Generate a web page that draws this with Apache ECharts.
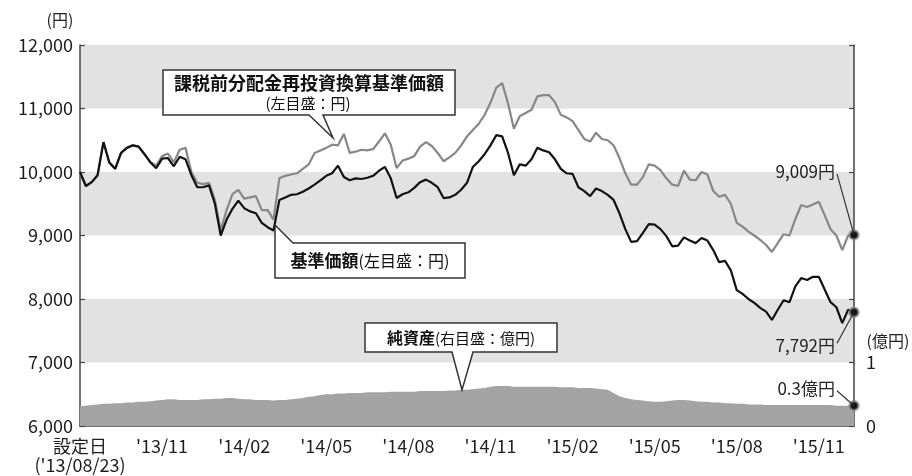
<!DOCTYPE html>
<html><head><meta charset="utf-8">
<script src="https://cdn.jsdelivr.net/npm/echarts@6/dist/echarts.min.js"></script>
<style>html,body{margin:0;padding:0;background:#fff}#c{width:912px;height:476px}</style>
</head><body><div id="c"></div>
<script>
// ---- data ----
const xTickLabels = ["設定日\n('13/08/23)", "'13/11", "'14/02", "'14/05", "'14/08", "'14/11", "'15/02", "'15/05", "'15/08", "'15/11"];
const pointsPerTick = 14;
// 基準価額 (円)
const navBase = [
 10000,9780,9840,9950,10470,10150,10050,10300,10380,10420,
 10400,10280,10150,10060,10210,10220,10090,10240,10200,9950,
 9760,9760,9790,9500,9000,9250,9420,9550,9430,9380,
 9350,9200,9130,9080,9560,9600,9640,9650,9690,9740,
 9800,9870,9940,9980,10100,9920,9870,9900,9890,9910,
 9940,10020,10080,9900,9590,9650,9680,9750,9840,9880,
 9830,9760,9590,9600,9640,9720,9830,10080,10170,10280,
 10420,10580,10560,10300,9950,10120,10100,10200,10380,10340,
 10310,10200,10050,9980,9970,9760,9700,9620,9740,9700,
 9640,9560,9350,9100,8900,8910,9040,9180,9170,9100,
 8990,8830,8840,8970,8920,8880,8960,8920,8770,8580,
 8600,8450,8140,8080,8000,7940,7860,7800,7670,7830,
 7980,7950,8200,8330,8300,8350,8350,8150,7950,7870,
 7620,7830,7792
];
// 課税前分配金再投資換算基準価額 (円)
const navReinvested = [
 10000,9780,9840,9950,10470,10150,10050,10300,10380,10420,
 10400,10280,10160,10100,10250,10290,10150,10350,10380,10000,
 9830,9810,9830,9560,9080,9400,9650,9720,9580,9600,
 9620,9400,9400,9250,9900,9940,9960,9980,10050,10120,
 10300,10340,10380,10430,10420,10600,10300,10320,10350,10340,
 10360,10480,10610,10430,10060,10180,10210,10250,10400,10470,
 10410,10300,10170,10230,10300,10420,10560,10660,10760,10900,
 11090,11330,11400,11080,10680,10880,10930,10980,11190,11210,
 11210,11100,10900,10860,10800,10660,10520,10480,10620,10520,
 10500,10420,10220,9980,9800,9800,9920,10120,10100,10030,
 9900,9800,9780,10020,9880,9870,10000,9960,9700,9610,
 9640,9500,9200,9140,9060,9000,8930,8850,8740,8880,
 9020,9000,9260,9480,9450,9490,9530,9320,9100,9000,
 8770,9000,9009
];
// 純資産 (億円)
const netAssets = [
 0.31,0.32,0.33,0.34,0.35,0.35,0.36,0.36,0.37,0.37,
 0.38,0.38,0.39,0.40,0.41,0.42,0.42,0.41,0.41,0.41,
 0.41,0.42,0.42,0.43,0.43,0.44,0.44,0.43,0.42,0.42,
 0.41,0.41,0.41,0.40,0.41,0.41,0.42,0.43,0.44,0.46,
 0.47,0.49,0.50,0.50,0.51,0.51,0.52,0.52,0.52,0.53,
 0.53,0.53,0.53,0.54,0.54,0.54,0.54,0.54,0.55,0.55,
 0.55,0.55,0.55,0.56,0.56,0.57,0.57,0.58,0.59,0.60,
 0.62,0.63,0.63,0.63,0.62,0.62,0.62,0.62,0.62,0.62,
 0.62,0.62,0.61,0.61,0.61,0.60,0.60,0.60,0.59,0.58,
 0.57,0.52,0.47,0.44,0.42,0.41,0.40,0.39,0.38,0.38,
 0.39,0.40,0.41,0.41,0.40,0.39,0.38,0.38,0.37,0.37,
 0.36,0.36,0.35,0.35,0.34,0.34,0.34,0.33,0.33,0.33,
 0.33,0.33,0.33,0.33,0.33,0.33,0.33,0.33,0.33,0.32,
 0.32,0.32,0.32
];
const endLabels = ['9,009円', '7,792円', '0.3億円'];
const rightTickLabels = {0: '0', 1: '1'};

// ---- chart ----
const FONT = '"Noto Sans CJK JP", "Noto Sans", sans-serif';
const TXT = '#1e1e1e';
const chart = echarts.init(document.getElementById('c'), null, {renderer: 'canvas'});
const cats = navBase.map((_, i) => String(i));
const last = navBase.length - 1;
const endSym = (val) => ({
  symbol: 'circle', symbolSize: 9, silent: true,
  label: {show: false},
  itemStyle: {color: '#111', borderColor: 'rgba(140,140,140,0.55)', borderWidth: 3},
  data: [{coord: [String(last), val]}]
});

chart.setOption({
  animation: false,
  grid: {left: 80, right: 58, top: 45, bottom: 50},
  xAxis: {
    type: 'category', data: cats, boundaryGap: false,
    axisLine: {lineStyle: {color: '#444', width: 1.5}},
    axisTick: {inside: true, length: 5, interval: (i) => i % pointsPerTick === 0 && i > 0, lineStyle: {color: '#444', width: 1.2}},
    axisLabel: {
      interval: (i) => i % pointsPerTick === 0,
      formatter: (v, i) => xTickLabels[i / pointsPerTick] || '',
      color: TXT, fontSize: 18, fontFamily: FONT, margin: 11, lineHeight: 19
    },
    splitLine: {show: false}
  },
  yAxis: [{
    type: 'value', min: 6000, max: 12000, interval: 1000,
    axisLine: {show: true, lineStyle: {color: '#444', width: 1.5}},
    axisTick: {show: true, inside: true, length: 5, lineStyle: {color: '#444', width: 1.2}},
    axisLabel: {formatter: (v) => v.toLocaleString('en-US'), color: TXT, fontSize: 18, fontFamily: FONT, margin: 7},
    splitLine: {show: false},
    splitArea: {show: true, areaStyle: {color: ['#ffffff', '#e2e2e2']}}
  }, {
    type: 'value', min: 0, max: 6, interval: 1, position: 'right',
    axisLine: {show: true, lineStyle: {color: '#444', width: 1.5}},
    axisTick: {show: true, inside: true, length: 5, lineStyle: {color: '#444', width: 1.2}},
    axisLabel: {formatter: (v) => rightTickLabels[v] || '', color: TXT, fontSize: 18, fontFamily: FONT, margin: 12},
    splitLine: {show: false}
  }],
  series: [{
    name: '純資産', type: 'line', yAxisIndex: 1, data: netAssets,
    symbol: 'none', lineStyle: {width: 0}, areaStyle: {color: '#a3a3a3', opacity: 1}, z: 1,
    markPoint: endSym(netAssets[last])
  }, {
    name: '課税前分配金再投資換算基準価額', type: 'line', data: navReinvested,
    symbol: 'none', lineStyle: {color: '#878787', width: 2.2}, z: 2,
    markPoint: endSym(navReinvested[last])
  }, {
    name: '基準価額', type: 'line', data: navBase,
    symbol: 'none', lineStyle: {color: '#121212', width: 2.2}, z: 3,
    markPoint: endSym(navBase[last])
  }]
});

// ---- annotations ----
const px = (yi, v) => chart.convertToPixel({xAxisIndex: 0, yAxisIndex: yi}, [last, v]);
const pR = px(0, navReinvested[last]);
const pB = px(0, navBase[last]);
const pA = px(1, netAssets[last]);
const box = {fill: '#fff', stroke: '#333', lineWidth: 1.5};
const g = [];
// callout: reinvested
g.push({type: 'polygon', z: 50, shape: {points: [[163,70],[455,70],[455,115],[323,115],[333,138],[309,115],[163,115]]}, style: box});
g.push({type: 'text', z: 51, x: 309, y: 83, style: {text: '課税前分配金再投資換算基準価額', font: 'bold 18px ' + FONT, fill: '#111', align: 'center', verticalAlign: 'middle'}});
g.push({type: 'text', z: 51, x: 308, y: 103, style: {text: '(左目盛：円)', font: '15px ' + FONT, fill: '#111', align: 'center', verticalAlign: 'middle'}});
// callout: base
g.push({type: 'polygon', z: 50, shape: {points: [[275,225],[293,243],[465,243],[465,278],[275,278]]}, style: box});
g.push({type: 'text', z: 51, x: 370, y: 261, style: {text: '{b|基準価額}{n|(左目盛：円)}', rich: {b: {font: 'bold 17px ' + FONT, fill: '#111'}, n: {font: '16px ' + FONT, fill: '#111'}}, align: 'center', verticalAlign: 'middle'}});
// callout: net assets
g.push({type: 'polygon', z: 50, shape: {points: [[365,323],[557,323],[557,352],[473,352],[462,390],[452,352],[365,352]]}, style: box});
g.push({type: 'text', z: 51, x: 461, y: 338, style: {text: '{b|純資産}{n|(右目盛：億円)}', rich: {b: {font: 'bold 16px ' + FONT, fill: '#111'}, n: {font: '15px ' + FONT, fill: '#111'}}, align: 'center', verticalAlign: 'middle'}});
// end labels with leaders
const endDefs = [[pR, endLabels[0], -63], [pB, endLabels[1], 33], [pA, endLabels[2], -17]];
endDefs.forEach(([p, t, dy]) => {
  g.push({type: 'line', z: 40, shape: {x1: p[0] - 17, y1: p[1] + dy + (dy < 0 ? 2 : -2), x2: p[0], y2: p[1]}, style: {stroke: '#333', lineWidth: 1.2}});
  g.push({type: 'text', z: 41, x: p[0] - 19, y: p[1] + dy, style: {text: t, font: '17px ' + FONT, fill: '#222', align: 'right', verticalAlign: 'middle'}});
});
// axis unit labels
g.push({type: 'text', z: 41, x: 60, y: 20, style: {text: '(円)', font: '16px ' + FONT, fill: TXT, align: 'center', verticalAlign: 'middle'}});
g.push({type: 'text', z: 41, x: 888, y: 341, style: {text: '(億円)', font: '16px ' + FONT, fill: TXT, align: 'center', verticalAlign: 'middle'}});
chart.setOption({graphic: g});
</script>
</body></html>
